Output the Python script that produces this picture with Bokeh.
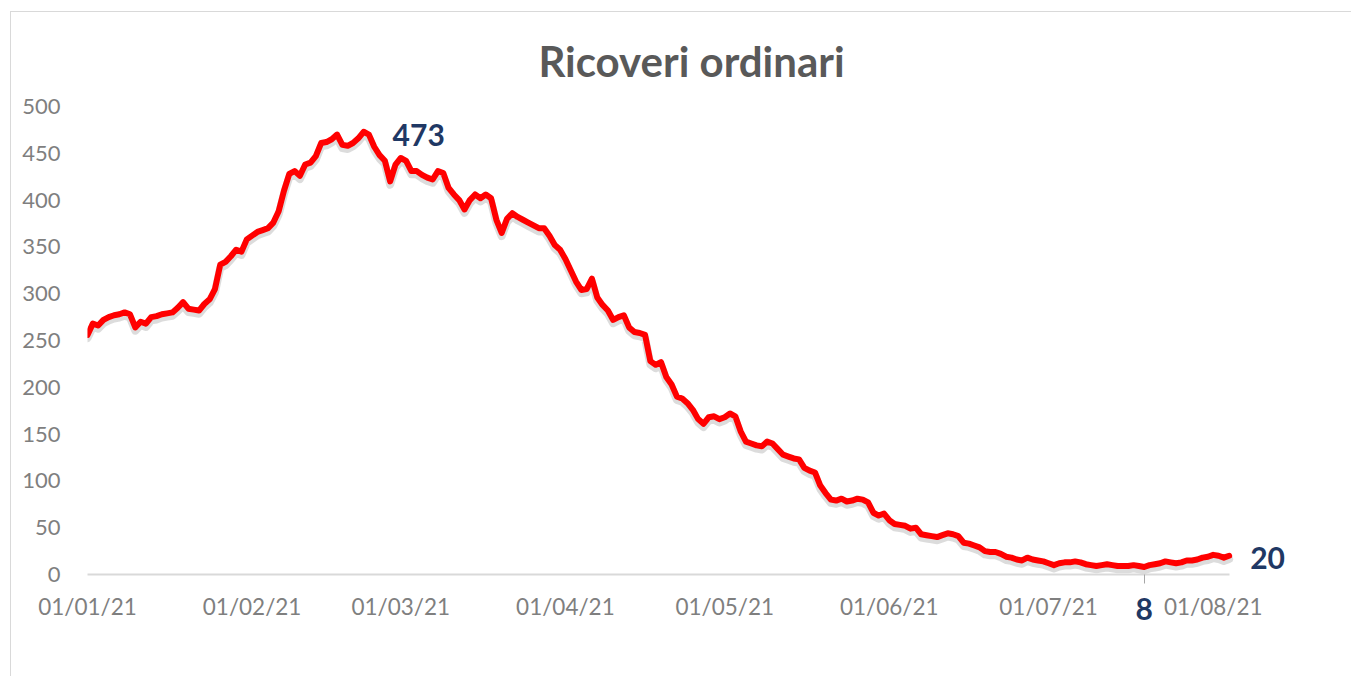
import pandas as pd
from bokeh.plotting import figure
from bokeh.models import (Range1d, FixedTicker, DatetimeTickFormatter, Label,
                          ColumnDataSource, DatetimeAxis)
from bokeh.embed import file_html
from bokeh.resources import INLINE

# ---------------- data ----------------
title_text = "Ricoveri ordinari"
start_date = "2021-01-01"
ricoveri = [
    256, 268, 266, 272, 275, 277, 278, 280, 278, 264,
    270, 268, 275, 276, 278, 279, 280, 285, 291, 284,
    283, 282, 289, 294, 305, 331, 334, 340, 347, 345,
    358, 362, 366, 368, 370, 376, 388, 410, 428, 431,
    426, 438, 440, 447, 461, 462, 465, 470, 459, 458,
    461, 466, 473, 470, 457, 448, 442, 420, 438, 445,
    442, 431, 431, 427, 424, 422, 431, 429, 413, 406,
    400, 390, 400, 406, 402, 406, 402, 379, 365, 380,
    386, 382, 379, 376, 373, 370, 370, 362, 352, 347,
    337, 325, 313, 304, 305, 316, 296, 288, 282, 272,
    275, 277, 264, 259, 258, 256, 228, 224, 227, 211,
    203, 190, 188, 183, 176, 166, 161, 168, 169, 166,
    168, 172, 169, 153, 142, 140, 138, 137, 142, 140,
    134, 128, 126, 124, 123, 114, 111, 109, 95, 87,
    80, 79, 81, 78, 79, 81, 80, 77, 66, 63,
    65, 58, 54, 53, 52, 49, 50, 43, 42, 41,
    40, 42, 44, 43, 41, 34, 33, 31, 29, 25,
    24, 24, 22, 19, 18, 16, 15, 18, 16, 15,
    14, 12, 10, 12, 13, 13, 14, 13, 11, 10,
    9, 10, 11, 10, 9, 9, 9, 10, 9, 8,
    10, 11, 12, 14, 13, 12, 13, 15, 15, 16,
    18, 19, 21, 20, 18, 20,
]
tick_dates = ["2021-01-01", "2021-02-01", "2021-03-01", "2021-04-01",
              "2021-05-01", "2021-06-01", "2021-07-01", "2021-08-01"]
y_ticks = [0, 50, 100, 150, 200, 250, 300, 350, 400, 450, 500]

# ---------------- layout constants ----------------
FIG_W, FIG_H = 1341, 665
MB_LEFT, MB_RIGHT, MB_TOP, MB_BOTTOM = 76, 57, 92, 103
PX_PER_DAY = 5.31
DAY_MS = 86400000.0

# ---------------- derived ----------------
dates = pd.date_range(start_date, periods=len(ricoveri), freq="D")


def ms(d):
    return pd.Timestamp(d).value / 1e6


src = ColumnDataSource(dict(date=dates, value=ricoveri))
i_max = max(range(len(ricoveri)), key=lambda i: ricoveri[i])
i_min = min(range(len(ricoveri)), key=lambda i: ricoveri[i])
i_last = len(ricoveri) - 1

frame_w = FIG_W - MB_LEFT - MB_RIGHT
x_start = ms(dates[0])
x_end = x_start + frame_w / PX_PER_DAY * DAY_MS   # room right of the data for its label
min_ms = ms(dates[i_min])

FONT = "Lato"
LABEL_COLOR = "#1f3864"
TICK_COLOR = "#7f7f7f"

p = figure(width=FIG_W, height=FIG_H, x_axis_type="datetime",
           output_backend="svg", toolbar_location=None,
           min_border_left=MB_LEFT, min_border_right=MB_RIGHT,
           min_border_top=MB_TOP, min_border_bottom=MB_BOTTOM,
           x_range=Range1d(x_start, x_end),
           y_range=Range1d(y_ticks[0], y_ticks[-1]))
p.styles = {"margin": "11px 0px 0px 10px",
            "border-left": "1px solid #d9d9d9",
            "border-top": "1px solid #d9d9d9"}
p.background_fill_color = "white"
p.border_fill_color = "white"
p.outline_line_color = None
p.xgrid.visible = False
p.ygrid.visible = False

# title
p.title.text = title_text
p.title.align = "center"
p.title.text_font = FONT
p.title.text_font_style = "bold"
p.title.text_font_size = "42px"
p.title.text_color = "#595959"
p.title.standoff = 42

# shadow via a slightly shifted range
p.extra_y_ranges = {"shadow": Range1d(y_ticks[0] + 3.5, y_ticks[-1] + 3.5)}
p.line("date", "value", source=src, y_range_name="shadow",
       line_color="#9a9a9a", line_alpha=0.35, line_width=8,
       line_join="round", line_cap="round")
p.line("date", "value", source=src, line_color="#ff0000", line_width=6,
       line_join="round", line_cap="round")

# y axis
ya = p.yaxis[0]
ya.ticker = FixedTicker(ticks=y_ticks)
ya.axis_line_color = None
ya.major_tick_line_color = None
ya.minor_tick_line_color = None
ya.major_label_text_font = FONT
ya.major_label_text_font_size = "22px"
ya.major_label_text_color = TICK_COLOR
ya.major_label_standoff = 21

# x axis, line limited to the data span
xa = p.xaxis[0]
xa.bounds = (ms(dates[0]), ms(dates[-1]))
xa.ticker = FixedTicker(ticks=[ms(d) for d in tick_dates],
                        minor_ticks=[min_ms])
fmt = "%d/%m/%y"
xa.formatter = DatetimeTickFormatter(days=fmt, months=fmt, years=fmt,
                                     hours=fmt, minutes=fmt)
xa.axis_line_color = "#d9d9d9"
xa.axis_line_width = 2
xa.major_tick_line_color = None
xa.major_tick_out = 0
xa.major_tick_in = 0
xa.minor_tick_line_color = "#a6a6a6"
xa.minor_tick_line_width = 1
xa.minor_tick_out = 9
xa.minor_tick_in = 0
xa.major_label_text_font = FONT
xa.major_label_text_font_size = "22.5px"
xa.major_label_text_color = TICK_COLOR
xa.major_label_standoff = 9

# second x axis carrying only the minimum's label under its tick
xb = DatetimeAxis(ticker=FixedTicker(ticks=[min_ms], minor_ticks=[]),
                  major_label_overrides={min_ms: str(ricoveri[i_min])})
xb.axis_line_color = None
xb.major_tick_line_color = None
xb.minor_tick_line_color = None
xb.major_tick_out = 0
xb.major_tick_in = 0
xb.major_label_text_font = FONT
xb.major_label_text_font_style = "bold"
xb.major_label_text_font_size = "30px"
xb.major_label_text_color = LABEL_COLOR
xb.major_label_standoff = -25
p.add_layout(xb, "below")

# data labels
common = dict(text_font=FONT, text_font_style="bold", text_font_size="30px",
              text_color=LABEL_COLOR, text_baseline="middle")
p.add_layout(Label(x=ms(dates[i_max]), y=ricoveri[i_max],
                   text=str(ricoveri[i_max]), x_offset=29, y_offset=-3,
                   text_align="left", **common))
p.add_layout(Label(x=ms(dates[i_last]), y=ricoveri[i_last],
                   text=str(ricoveri[i_last]), x_offset=21, y_offset=-2,
                   text_align="left", **common))

open("out.html", "w").write(file_html(p, INLINE))
